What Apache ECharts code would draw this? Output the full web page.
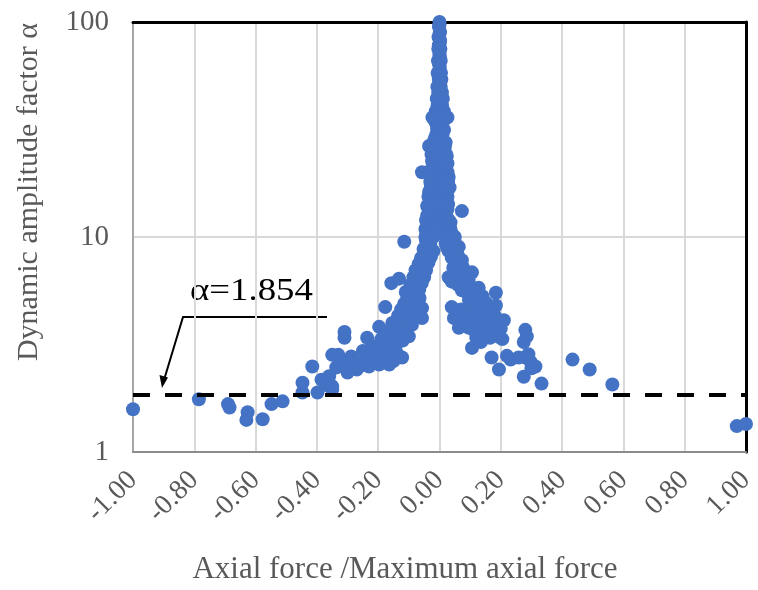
<!DOCTYPE html>
<html>
<head>
<meta charset="utf-8">
<script src="https://cdn.jsdelivr.net/npm/echarts@6/dist/echarts.min.js"></script>
<style>
  html, body { margin: 0; padding: 0; background: #fff; }
  #chart { width: 758px; height: 590px; }
</style>
</head>
<body>
<div id="chart"></div>
<script>
// [axial force ratio, dynamic amplitude factor]
const leftTail = [
  [-1.000, 1.58], [-0.785, 1.76], [-0.690, 1.67], [-0.685, 1.61], [-0.626, 1.53],
  [-0.630, 1.41], [-0.577, 1.42], [-0.548, 1.67], [-0.512, 1.72], [-0.447, 1.89],
  [-0.447, 2.10], [-0.415, 2.50], [-0.398, 1.89], [-0.385, 2.17], [-0.350, 1.95]
];
const leftArm = [
  [-0.044, 9.6], [-0.036, 9.0], [-0.020, 8.6], [-0.040, 8.5], [-0.028, 8.1], [-0.048, 7.9],
  [-0.036, 7.6], [-0.056, 7.3], [-0.044, 7.0], [-0.062, 6.8], [-0.050, 6.5], [-0.070, 6.3],
  [-0.058, 6.1], [-0.076, 5.9], [-0.066, 5.7], [-0.084, 5.5], [-0.074, 5.3], [-0.092, 5.1],
  [-0.082, 4.9], [-0.100, 4.75], [-0.057, 4.67], [-0.057, 4.2], [-0.090, 4.55], [-0.110, 4.4],
  [-0.098, 4.25], [-0.118, 4.1], [-0.106, 3.95], [-0.128, 3.85], [-0.112, 3.7], [-0.140, 3.7],
  [-0.100, 3.45], [-0.125, 3.5], [-0.150, 3.4], [-0.135, 3.25], [-0.165, 3.2], [-0.145, 3.05],
  [-0.174, 3.09], [-0.190, 3.35], [-0.160, 2.95], [-0.187, 2.83], [-0.175, 2.7], [-0.197, 2.55],
  [-0.164, 2.55], [-0.210, 2.85], [-0.240, 2.83], [-0.225, 2.65], [-0.255, 2.6], [-0.270, 2.42],
  [-0.288, 2.78], [-0.300, 2.34], [-0.262, 2.5], [-0.330, 2.83], [-0.350, 2.83], [-0.337, 2.47],
  [-0.350, 2.02], [-0.157, 6.1], [-0.132, 6.4], [-0.110, 5.55], [-0.076, 5.8], [-0.115, 9.5],
  [-0.122, 2.75], [-0.177, 4.72], [-0.154, 3.98], [-0.197, 3.82], [-0.236, 3.4], [-0.310, 3.62],
  [-0.310, 3.40], [-0.030, 9.2], [-0.052, 8.8], [-0.060, 8.0], [-0.068, 7.5], [-0.078, 7.0],
  [-0.085, 6.5], [-0.095, 6.0], [-0.098, 5.6], [-0.105, 5.2], [-0.115, 4.9], [-0.125, 4.6],
  [-0.135, 4.3], [-0.145, 4.0], [-0.160, 3.7], [-0.170, 3.5], [-0.180, 3.1], [-0.200, 3.0],
  [-0.220, 3.1], [-0.250, 2.95], [-0.280, 2.6], [-0.320, 2.6], [-0.290, 2.45], [-0.120, 3.3],
  [-0.090, 3.9], [-0.080, 4.3], [-0.070, 4.8], [-0.065, 5.2], [-0.140, 2.9], [-0.150, 2.65],
  [-0.210, 2.6], [-0.230, 2.5], [-0.360, 2.25], [-0.370, 2.05]
];
const spike = [
  [0.000, 100], [0.000, 97], [-0.002, 95], [0.002, 90], [0.000, 88], [-0.003, 85], [0.002, 82],
  [0.001, 80], [-0.002, 78], [-0.004, 75], [0.003, 75], [0.000, 72], [0.000, 70], [0.002, 68],
  [-0.005, 66], [0.004, 66], [-0.002, 64], [0.001, 62], [0.000, 60], [-0.006, 58], [0.005, 58],
  [-0.003, 56], [-0.002, 54], [0.006, 54], [0.002, 52], [-0.007, 50], [0.004, 50], [0.000, 48],
  [-0.004, 47], [0.008, 47], [0.000, 45], [-0.009, 44], [0.003, 44], [0.011, 44], [-0.002, 42.5],
  [-0.006, 41], [0.008, 41], [0.004, 39.5], [-0.012, 38.5], [0.002, 38.5], [0.014, 38.5],
  [-0.015, 37], [0.018, 37], [-0.023, 36], [-0.005, 36], [0.010, 36], [0.026, 36], [-0.016, 35],
  [0.015, 35], [-0.012, 34], [0.006, 34], [0.000, 33], [-0.008, 32], [0.009, 32], [0.015, 31.5],
  [-0.005, 31], [-0.010, 30], [0.003, 30], [0.010, 30], [-0.014, 29], [0.006, 29], [-0.018, 28],
  [0.000, 28], [0.012, 28], [0.020, 27.5], [-0.022, 27], [0.004, 27], [-0.034, 26.5], [-0.010, 26.5],
  [0.008, 26.5], [0.018, 26.5], [-0.020, 25], [0.002, 25], [0.016, 25], [-0.006, 24.5], [0.020, 24.5],
  [-0.026, 24.2], [-0.012, 23.8], [0.010, 23.8], [0.024, 23.8], [-0.024, 22.5], [-0.004, 22.5],
  [0.014, 22.5], [-0.012, 22], [0.008, 22], [0.026, 22], [-0.018, 21], [0.004, 21], [0.022, 21],
  [-0.028, 20.5], [-0.010, 20.5], [0.012, 20.5], [-0.057, 20], [-0.020, 20], [0.000, 20], [0.026, 20],
  [-0.018, 19.5], [0.004, 19.5], [0.022, 19.5], [-0.026, 19], [-0.006, 19], [0.014, 19], [0.030, 19],
  [-0.022, 18.5], [0.000, 18.5], [0.020, 18.5], [-0.030, 18], [-0.010, 18], [0.010, 18], [0.028, 18],
  [-0.028, 17.5], [-0.010, 17.5], [0.012, 17.5], [0.026, 17.5], [-0.020, 17], [0.002, 17], [0.033, 17],
  [-0.030, 16.6], [-0.004, 16.6], [0.018, 16.6], [-0.034, 16.2], [-0.012, 16.2], [0.008, 16.2],
  [0.024, 16.2], [-0.026, 15.8], [-0.004, 15.8], [0.016, 15.8], [-0.036, 15.4], [-0.016, 15.4],
  [0.004, 15.4], [0.026, 15.4], [-0.032, 15.0], [-0.012, 15.0], [0.010, 15.0], [0.024, 15.0],
  [-0.028, 14.6], [-0.006, 14.6], [0.016, 14.6], [-0.036, 14.2], [-0.014, 14.2], [0.008, 14.2],
  [0.028, 14.2], [-0.040, 13.9], [-0.020, 13.9], [0.000, 13.9], [0.020, 13.9], [-0.022, 13.5],
  [0.004, 13.5], [0.026, 13.5], [-0.032, 13.2], [-0.010, 13.2], [0.012, 13.2], [0.073, 13.2],
  [-0.040, 12.6], [-0.020, 12.6], [0.002, 12.6], [0.022, 12.6], [-0.030, 12.3], [-0.010, 12.3],
  [0.012, 12.3], [-0.044, 12.0], [-0.026, 12.0], [-0.006, 12.0], [0.014, 12.0], [0.030, 12.0],
  [-0.032, 11.7], [-0.008, 11.7], [0.016, 11.7], [0.036, 11.7], [-0.038, 11.4], [-0.016, 11.4],
  [0.006, 11.4], [0.026, 11.4], [-0.036, 11.1], [-0.018, 11.1], [0.004, 11.1], [0.026, 11.1],
  [-0.046, 10.9], [-0.028, 10.9], [-0.008, 10.9], [0.014, 10.9], [0.036, 10.9], [-0.034, 10.6],
  [-0.012, 10.6], [0.014, 10.6], [0.034, 10.6], [-0.042, 10.4], [-0.022, 10.4], [0.004, 10.4],
  [0.024, 10.4], [0.040, 10.4], [-0.040, 10.2], [0.030, 10.2], [-0.046, 10.0], [-0.030, 10.0],
  [-0.020, 10.0], [0.022, 10.0], [0.040, 10.0], [0.050, 10.0]
];
const rightArm = [
  [0.020, 9.3], [0.035, 9.1], [0.050, 9.2], [0.063, 9.0], [0.030, 8.6], [0.048, 8.5], [0.060, 8.2],
  [0.040, 8.0], [0.073, 7.8], [0.055, 7.6], [0.045, 7.2], [0.066, 7.2], [0.080, 7.0], [0.058, 6.9],
  [0.030, 6.5], [0.090, 6.6], [0.106, 6.85], [0.040, 6.2], [0.070, 6.3], [0.085, 6.1], [0.075, 5.9],
  [0.100, 5.9], [0.073, 5.65], [0.128, 5.8], [0.090, 5.5], [0.110, 5.4], [0.184, 5.5], [0.140, 5.3],
  [0.096, 5.1], [0.152, 4.95], [0.120, 4.75], [0.184, 4.8], [0.040, 4.72], [0.170, 4.6], [0.070, 4.6],
  [0.090, 4.5], [0.130, 4.45], [0.110, 4.35], [0.150, 4.4], [0.047, 4.2], [0.100, 4.2], [0.180, 4.3],
  [0.210, 4.1], [0.161, 4.1], [0.080, 4.0], [0.128, 3.98], [0.140, 3.85], [0.063, 3.78], [0.096, 3.78],
  [0.160, 3.75], [0.280, 3.7], [0.145, 3.58], [0.120, 3.4], [0.194, 3.43], [0.205, 3.35], [0.275, 3.25],
  [0.106, 3.05], [0.170, 2.75], [0.232, 2.69], [0.258, 2.75], [0.280, 2.75], [0.297, 2.63],
  [0.313, 2.5], [0.194, 2.42], [0.275, 2.24], [0.333, 2.08], [0.025, 8.9], [0.040, 8.3],
  [0.052, 7.9], [0.062, 7.5], [0.075, 7.3], [0.050, 6.8], [0.065, 6.6], [0.080, 6.4], [0.095, 6.3],
  [0.060, 6.0], [0.085, 5.7], [0.105, 5.6], [0.120, 5.5], [0.130, 5.1], [0.115, 5.0], [0.140, 4.8],
  [0.160, 4.6], [0.075, 4.3], [0.120, 4.1], [0.145, 4.2], [0.105, 3.9], [0.115, 3.65], [0.130, 3.55],
  [0.180, 3.9], [0.200, 3.75], [0.165, 3.4], [0.135, 3.25], [0.220, 2.8], [0.300, 2.45], [0.290, 2.85],
  [0.285, 3.45]
];
const rightTail = [
  [0.434, 2.69], [0.490, 2.42], [0.564, 2.06], [0.970, 1.32], [1.000, 1.35]
];
const threshold = 1.854;
const yTicks = [1, 10, 100];

const serif = 'Liberation Serif';
const grey = '#595959';

const chart = echarts.init(document.getElementById('chart'));
chart.setOption({
  backgroundColor: '#fff',
  animation: false,
  grid: { left: 133, right: 10, top: 22, bottom: 138 },
  xAxis: [
    {
      type: 'value', min: -1, max: 1, interval: 0.2,
      axisLine: { onZero: false, lineStyle: { color: '#8c8c8c', width: 2 } },
      axisTick: { show: false },
      splitLine: { lineStyle: { color: '#d9d9d9', width: 2 } },
      axisLabel: {
        rotate: 45, margin: 24, color: grey, fontFamily: serif, fontSize: 28,
        formatter: v => v.toFixed(2)
      }
    },
    {
      type: 'value', position: 'top', min: -1, max: 1,
      axisLine: { onZero: false, lineStyle: { color: '#000', width: 3 } },
      axisTick: { show: false }, axisLabel: { show: false }, splitLine: { show: false }
    }
  ],
  yAxis: [
    {
      type: 'log', logBase: 10, min: 1, max: 100,
      axisLine: { show: true, onZero: false, lineStyle: { color: '#a6a6a6', width: 2 } },
      axisTick: { show: false },
      minorTick: { show: false },
      splitLine: { lineStyle: { color: '#d9d9d9', width: 2 } },
      axisLabel: {
        margin: 24, color: grey, fontFamily: serif, fontSize: 29,
        formatter: v => (yTicks.includes(Math.round(v)) ? String(Math.round(v)) : '')
      }
    },
    {
      type: 'value', position: 'right', min: 0, max: 1,
      axisLine: { show: true, onZero: false, lineStyle: { color: '#000', width: 3 } },
      axisTick: { show: false }, axisLabel: { show: false }, splitLine: { show: false }
    }
  ],
  series: [
    {
      type: 'scatter',
      symbolSize: 14,
      itemStyle: { color: '#4472c4', opacity: 1 },
      data: [].concat(leftTail, leftArm, spike, rightArm, rightTail),
      markLine: {
        silent: true,
        symbol: 'none',
        label: { show: false },
        lineStyle: { color: '#000', width: 4, type: [17, 15] },
        data: [{ yAxis: threshold }]
      }
    }
  ],
  graphic: [
    {
      type: 'text', x: 190, y: 292, scaleX: 1.15,
      style: {
        text: 'α=1.854', fill: '#000', font: '32px "Liberation Serif"',
        align: 'left', verticalAlign: 'middle'
      }
    },
    {
      type: 'polyline',
      shape: { points: [[327, 317], [183, 317], [164, 380]] },
      style: { stroke: '#000', lineWidth: 2, fill: null }
    },
    {
      type: 'polygon',
      shape: { points: [[162, 388], [159.5, 375], [168, 377.5]] },
      style: { fill: '#000' }
    },
    {
      type: 'text', x: 29, y: 192, rotation: Math.PI / 2,
      style: {
        text: 'Dynamic amplitude factor α', fill: grey, font: '30px "Liberation Serif"',
        align: 'center', verticalAlign: 'middle'
      }
    },
    {
      type: 'text', x: 405, y: 570,
      style: {
        text: 'Axial force /Maximum axial force', fill: grey, font: '31px "Liberation Serif"',
        align: 'center', verticalAlign: 'middle'
      }
    }
  ]
});
</script>
</body>
</html>
